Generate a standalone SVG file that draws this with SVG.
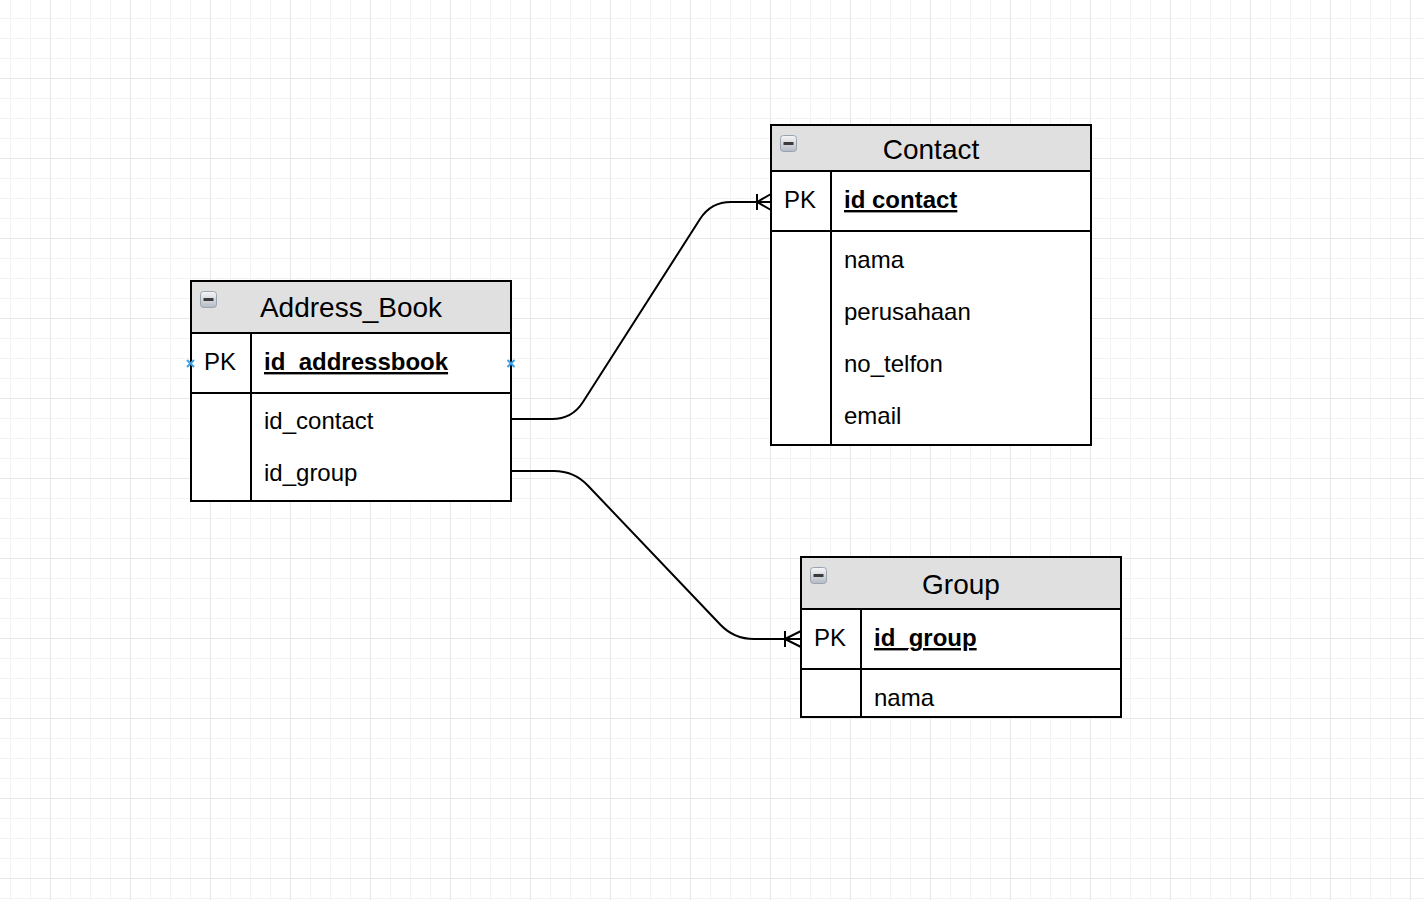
<svg xmlns="http://www.w3.org/2000/svg" width="1424" height="900" viewBox="0 0 1424 900">
<style>
.tbl{fill:#ffffff;stroke:#000;stroke-width:2}
.hdr{fill:#e0e0e0;stroke:#000;stroke-width:2}
.ln{stroke:#000;stroke-width:2;fill:none}
.title{font-family:"Liberation Sans",Arial,sans-serif;font-size:28px;fill:#000;text-anchor:middle}
.txt{font-family:"Liberation Sans",Arial,sans-serif;font-size:24px;fill:#000}
.key{font-family:"Liberation Sans",Arial,sans-serif;font-size:24px;font-weight:bold;fill:#000;text-decoration:underline}
.conn{stroke:#000;stroke-width:2;fill:none}
.mk{stroke:#3a9fe6;stroke-width:2;fill:none}
</style>
<defs>
<pattern id="minor" x="10" y="-2" width="20" height="20" patternUnits="userSpaceOnUse">
<path d="M0,0 V20 M0,0 H20" stroke="#f3f3f3" stroke-width="2" fill="none"/>
</pattern>
<pattern id="major" x="50" y="-2" width="80" height="80" patternUnits="userSpaceOnUse">
<path d="M0,0 V80 M0,0 H80" stroke="#e7e7e7" stroke-width="2" fill="none"/>
</pattern>
<linearGradient id="ig" x1="0" y1="0" x2="0" y2="1">
<stop offset="0" stop-color="#f6f6f6"/>
<stop offset="1" stop-color="#b4bac4"/>
</linearGradient>
<g id="minus">
<rect x="0.5" y="0.5" width="16" height="16" rx="3" fill="url(#ig)" stroke="#9aa3b0" stroke-width="1"/>
<rect x="3.5" y="7" width="10" height="3" fill="#3a3a3a"/>
</g>
</defs>
<rect width="1424" height="900" fill="#ffffff"/>
<rect width="1424" height="900" fill="url(#minor)"/>
<rect width="1424" height="900" fill="url(#major)"/>

<g id="connectors">
<path class="conn" d="M511,419 L552,419 Q572,419 582.8,402.2 L700.2,218.8 Q711,202 731,202 L771,202"/>
<path class="conn" d="M757,194 V210 M757,202 L771,194 M757,202 L771,210"/>
<path class="conn" d="M511,471 L554,471 Q574,471 587.8,485.5 L720.2,624.5 Q734,639 754,639 L801,639"/>
<path class="conn" d="M785,631 V647 M785,639 L801,631 M785,639 L801,647"/>
</g>

<g id="address_book">
<rect class="tbl" x="191" y="281" width="320" height="220"/>
<rect class="hdr" x="191" y="281" width="320" height="52"/>
<use href="#minus" x="200" y="291"/>
<text class="title" x="351" y="317">Address_Book</text>
<line class="ln" x1="191" y1="393" x2="511" y2="393"/>
<line class="ln" x1="251" y1="333" x2="251" y2="501"/>
<text class="txt" x="204" y="370">PK</text>
<text class="key" x="264" y="370">id_addressbook</text>
<text class="txt" x="264" y="429">id_contact</text>
<text class="txt" x="264" y="481">id_group</text>
<path class="mk" d="M187,360 L194,367 M194,360 L187,367"/>
<path class="mk" d="M507.5,360 L514.5,367 M514.5,360 L507.5,367"/>
</g>

<g id="contact">
<rect class="tbl" x="771" y="125" width="320" height="320"/>
<rect class="hdr" x="771" y="125" width="320" height="46"/>
<use href="#minus" x="780" y="135"/>
<text class="title" x="931" y="159">Contact</text>
<line class="ln" x1="771" y1="231" x2="1091" y2="231"/>
<line class="ln" x1="831" y1="171" x2="831" y2="445"/>
<text class="txt" x="784" y="208">PK</text>
<text class="key" x="844" y="208">id contact</text>
<text class="txt" x="844" y="268">nama</text>
<text class="txt" x="844" y="320">perusahaan</text>
<text class="txt" x="844" y="372">no_telfon</text>
<text class="txt" x="844" y="424">email</text>
</g>

<g id="group">
<rect class="tbl" x="801" y="557" width="320" height="160"/>
<rect class="hdr" x="801" y="557" width="320" height="52"/>
<use href="#minus" x="810" y="567"/>
<text class="title" x="961" y="594">Group</text>
<line class="ln" x1="801" y1="669" x2="1121" y2="669"/>
<line class="ln" x1="861" y1="609" x2="861" y2="717"/>
<text class="txt" x="814" y="646">PK</text>
<text class="key" x="874" y="646">id_group</text>
<text class="txt" x="874" y="706">nama</text>
</g>
</svg>
